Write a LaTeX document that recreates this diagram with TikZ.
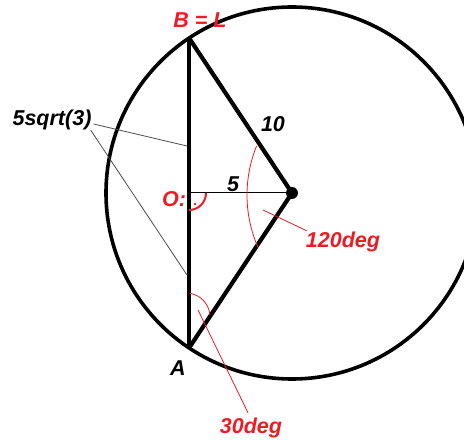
\documentclass[tikz,border=0pt]{standalone}
\usepackage{fontspec}
\setmainfont{Liberation Sans}
\definecolor{paintred}{RGB}{237,28,36}
\begin{document}
\begin{tikzpicture}
[x=1pt,y=-1pt,
 heavy/.style={line width=4.2pt},
 thinred/.style={draw=paintred, line width=0.8pt},
 leader/.style={draw=black!70, line width=0.8pt},
 lbl/.style={font=\fontsize{21.5}{25}\selectfont\bfseries\itshape, inner sep=0pt}]
\useasboundingbox (0,0) rectangle (464,441);
\clip (0,0) rectangle (464,441);
% Points of the figure
\coordinate (C) at (292,193);
\coordinate (B) at (189,38);
\coordinate (A) at (189,348);
\coordinate (O) at (189,193);
\coordinate (k120) at (377,195);
\coordinate (k30) at (186,317);

% Circle, chord and radii
\draw[line width=3.6pt] (C) circle (186);
\draw[heavy] (B) -- (A);
\draw[heavy] (B) -- (C) -- (A);
\draw[line width=1pt] (O) -- (C);
\fill (C) circle (6);

% Labels
\node[lbl,text=paintred] (BL)     at (200,20)  {B = L};
\node[lbl]               (Alab)   at (178,368) {A};
\node[lbl]               (ten)    at (273,124) {10};
\node[lbl]               (five)   at (233,184) {5};
\node[lbl,text=paintred] (Olab)   at (174,199) {O:};
\node[lbl]               (root)   at (52,120)  {5sqrt(3)};
\node[lbl,text=paintred] (deg120) at (343,242) {120deg};
\node[lbl,text=paintred] (deg30)  at (251,428) {30deg};

% Angle marks
\draw[paintred,line width=2pt] ([shift={(90:17)}]O) arc[start angle=90,end angle=0,radius=17];
\fill[paintred] ([shift={(6,11)}]O) circle (1.3);
\draw[thinred] ([shift={(156.4:130)}]k120) arc[start angle=156.4,end angle=202.2,radius=130];
\draw[thinred] ([shift={(-80:24)}]k30) arc[start angle=-80,end angle=-5,radius=24];

% Leaders
\coordinate (m1) at (187,146);
\coordinate (m2) at (187,275);
\coordinate (a120) at (263,210);
\coordinate (a30) at (198,310);
\draw[leader] ([shift={(2,4)}]root.east) -- (m1);
\draw[leader] ([shift={(-1,10)}]root.east) -- (m2);
\draw[thinred] (a120) -- ([shift={(1,-1)}]deg120.north west);
\draw[thinred] (a30) -- ([shift={(-3,-5)}]deg30.north);
\end{tikzpicture}
\end{document}
